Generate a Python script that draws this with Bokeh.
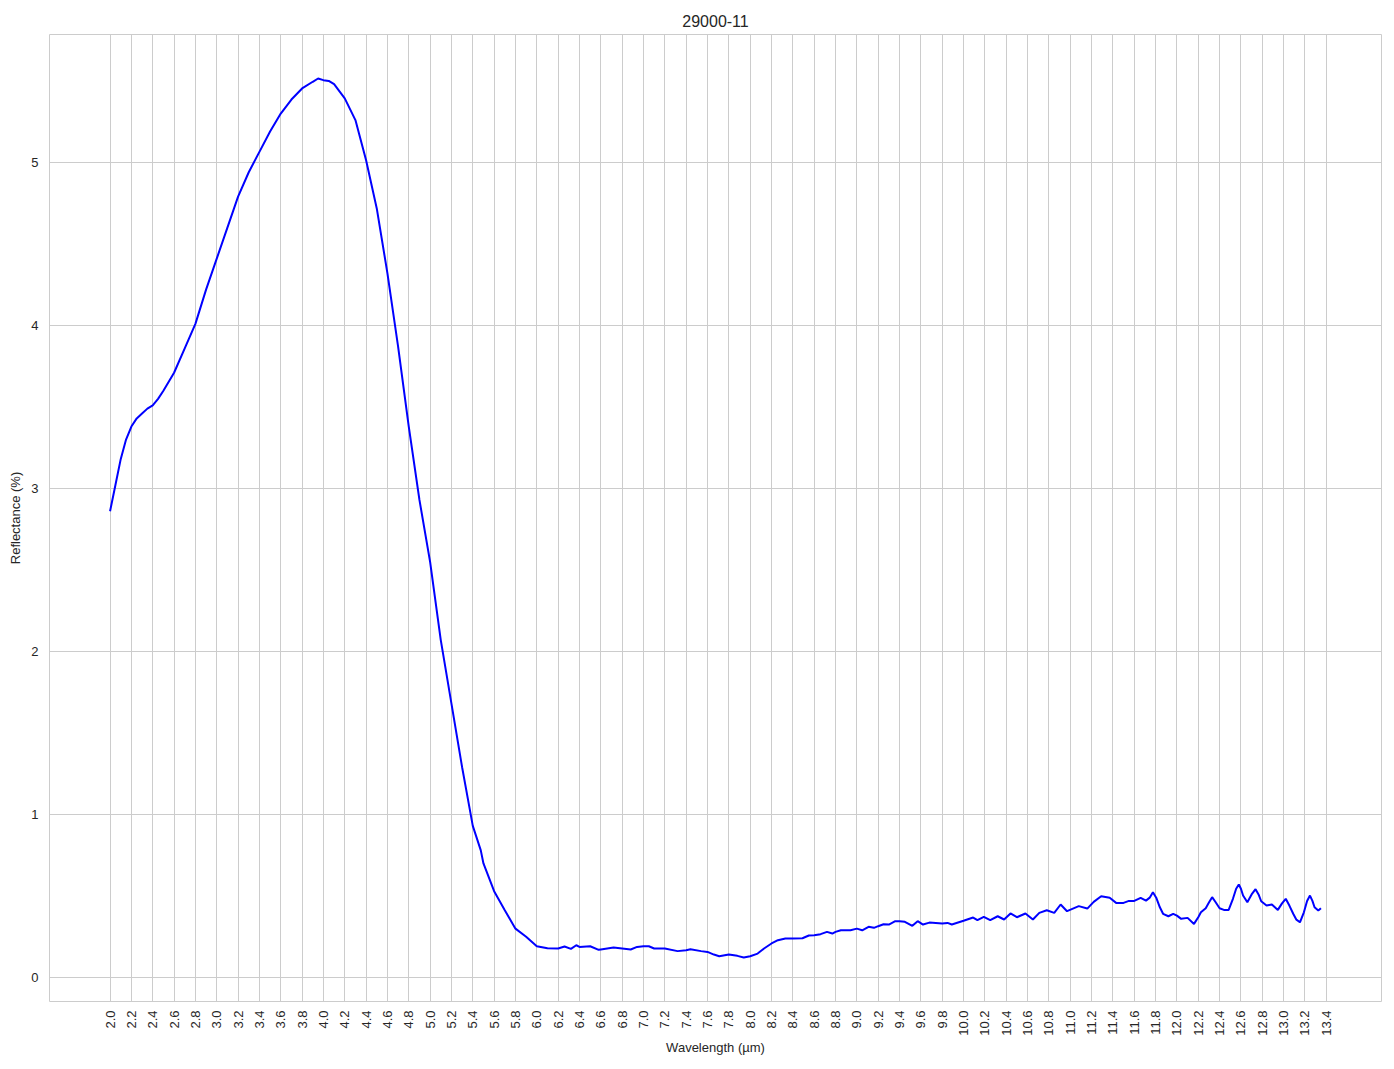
from bokeh.plotting import figure
from bokeh.models import Range1d, FixedTicker, PrintfTickFormatter, ColumnDataSource
from bokeh.embed import file_html
from bokeh.resources import INLINE
import math

title_text = "29000-11"
x_label = "Wavelength (µm)"
y_label = "Reflectance (%)"

wavelength = [2.0, 2.05, 2.1, 2.15, 2.2, 2.25, 2.3, 2.35, 2.4, 2.45, 2.5, 2.6, 2.7, 2.8, 2.9,
              3.0, 3.1, 3.2, 3.3, 3.4, 3.5, 3.6, 3.7, 3.8, 3.9, 3.95, 4.0, 4.05, 4.1, 4.2, 4.3,
              4.4, 4.5, 4.6, 4.7, 4.8, 4.9, 5.0, 5.1, 5.2, 5.3, 5.4, 5.475, 5.5, 5.6, 5.7, 5.8,
              5.9, 6.0, 6.1, 6.2, 6.26, 6.32, 6.37, 6.4, 6.5, 6.58, 6.6, 6.72, 6.8, 6.88, 6.94,
              7.0, 7.05, 7.1, 7.2, 7.32, 7.4, 7.44, 7.54, 7.6, 7.66, 7.71, 7.8, 7.88, 7.94, 8.0,
              8.07, 8.13, 8.2, 8.26, 8.33, 8.4, 8.49, 8.55, 8.6, 8.66, 8.72, 8.77, 8.8, 8.85,
              8.94, 9.0, 9.05, 9.11, 9.16, 9.2, 9.25, 9.3, 9.36, 9.4, 9.45, 9.52, 9.57, 9.62,
              9.68, 9.8, 9.85, 9.89, 10.0, 10.09, 10.13, 10.19, 10.25, 10.32, 10.38, 10.44,
              10.5, 10.58, 10.65, 10.71, 10.78, 10.85, 10.91, 10.97, 11.08, 11.16, 11.22,
              11.29, 11.37, 11.43, 11.5, 11.55, 11.6,
              11.66, 11.71, 11.745, 11.775, 11.806, 11.84, 11.87, 11.92, 11.965, 12.0, 12.04,
              12.10, 12.16, 12.2, 12.225, 12.27, 12.30, 12.33, 12.36, 12.4, 12.44, 12.485,
              12.525, 12.555, 12.58, 12.60, 12.62, 12.66, 12.70, 12.737, 12.765, 12.79, 12.84,
              12.89, 12.946, 12.985, 13.02, 13.055, 13.09, 13.12, 13.153, 13.19, 13.22, 13.247,
              13.27, 13.29, 13.325, 13.35]

reflectance = [2.86, 3.02, 3.18, 3.30, 3.38, 3.43, 3.46, 3.49, 3.51, 3.55, 3.60, 3.71, 3.86, 4.01, 4.22,
               4.41, 4.60, 4.79, 4.94, 5.065, 5.19, 5.30, 5.386, 5.454, 5.495, 5.515, 5.505, 5.50, 5.48, 5.393, 5.26,
               5.014, 4.718, 4.32, 3.87, 3.38, 2.93, 2.55, 2.07, 1.68, 1.29, 0.93, 0.78, 0.70, 0.53, 0.413, 0.30,
               0.25, 0.192, 0.18, 0.178, 0.19, 0.176, 0.198, 0.188, 0.192, 0.17, 0.172, 0.184, 0.178, 0.172, 0.188,
               0.192, 0.192, 0.178, 0.178, 0.162, 0.168, 0.174, 0.162, 0.157, 0.141, 0.131, 0.141, 0.133, 0.123, 0.131,
               0.147, 0.178, 0.209, 0.229, 0.239, 0.239, 0.241, 0.258, 0.26, 0.266, 0.28, 0.27, 0.28, 0.29,
               0.29, 0.30, 0.29, 0.311, 0.305, 0.315, 0.327, 0.325, 0.346, 0.346, 0.342, 0.317, 0.346, 0.325,
               0.337, 0.331, 0.335, 0.325, 0.348, 0.368, 0.352, 0.372, 0.352, 0.376, 0.356, 0.393,
               0.37, 0.393, 0.356, 0.397, 0.413, 0.397, 0.448, 0.407, 0.438, 0.423, 0.464,
               0.499, 0.489, 0.458, 0.458, 0.47, 0.47,
               0.489, 0.472, 0.49, 0.523, 0.49, 0.431, 0.391, 0.376, 0.391, 0.38, 0.36,
               0.366, 0.329, 0.37, 0.40, 0.425, 0.46, 0.493, 0.465, 0.425, 0.415, 0.415,
               0.483, 0.545, 0.571, 0.545, 0.503, 0.462, 0.51, 0.542, 0.51, 0.468, 0.442,
               0.448, 0.415, 0.455, 0.483, 0.44, 0.391, 0.355, 0.339, 0.40, 0.47, 0.503,
               0.47, 0.431, 0.411, 0.425]

x_ticks = [2.0, 2.2, 2.4, 2.6, 2.8, 3.0, 3.2, 3.4, 3.6, 3.8, 4.0, 4.2, 4.4, 4.6, 4.8, 5.0, 5.2,
           5.4, 5.6, 5.8, 6.0, 6.2, 6.4, 6.6, 6.8, 7.0, 7.2, 7.4, 7.6, 7.8, 8.0, 8.2, 8.4, 8.6,
           8.8, 9.0, 9.2, 9.4, 9.6, 9.8, 10.0, 10.2, 10.4, 10.6, 10.8, 11.0, 11.2, 11.4, 11.6,
           11.8, 12.0, 12.2, 12.4, 12.6, 12.8, 13.0, 13.2, 13.4]
y_ticks = [0, 1, 2, 3, 4, 5]

FONT = "Liberation Sans"
GRID = "#cccccc"

src = ColumnDataSource(data=dict(x=wavelength, y=reflectance))

p = figure(frame_width=1332, frame_height=967, output_backend="svg", toolbar_location=None,
           x_range=Range1d(1.4325, 13.9175), y_range=Range1d(-0.147, 5.785),
           min_border_left=49, min_border_right=5, min_border_top=34, min_border_bottom=20)

p.title.text = title_text
p.title.align = "center"
p.title.text_font = FONT
p.title.text_font_size = "16px"
p.title.text_font_style = "normal"
p.title.text_color = "#262626"
p.title.offset = 0
p.title.standoff = 16

p.line("x", "y", source=src, line_color="#0000ff", line_width=2)

p.background_fill_color = "white"
p.border_fill_color = "white"
p.outline_line_color = GRID
p.outline_line_width = 1

for ax in (p.xaxis[0], p.yaxis[0]):
    ax.axis_line_color = None
    ax.major_tick_line_color = None
    ax.minor_tick_line_color = None
    ax.major_tick_out = 0
    ax.major_tick_in = 0
    ax.minor_tick_out = 0
    ax.minor_tick_in = 0
    ax.major_label_text_font = FONT
    ax.major_label_text_font_size = "13px"
    ax.major_label_text_color = "#262626"
    ax.axis_label_text_font = FONT
    ax.axis_label_text_font_size = "13px"
    ax.axis_label_text_font_style = "normal"
    ax.axis_label_text_color = "#262626"

p.xaxis.ticker = FixedTicker(ticks=x_ticks)
p.xaxis.formatter = PrintfTickFormatter(format="%.1f")
p.xaxis.major_label_orientation = math.pi / 2
p.xaxis.axis_label = x_label
p.xaxis.major_label_standoff = 9
p.xaxis.axis_label_standoff = 1

p.yaxis.ticker = FixedTicker(ticks=y_ticks)
p.yaxis.axis_label = y_label
p.yaxis.major_label_standoff = 11
p.yaxis.axis_label_standoff = 5

p.xgrid.ticker = FixedTicker(ticks=x_ticks)
p.ygrid.ticker = FixedTicker(ticks=y_ticks)
for g in (p.xgrid[0], p.ygrid[0]):
    g.grid_line_color = GRID
    g.grid_line_width = 1

open("out.html", "w").write(file_html(p, INLINE))
